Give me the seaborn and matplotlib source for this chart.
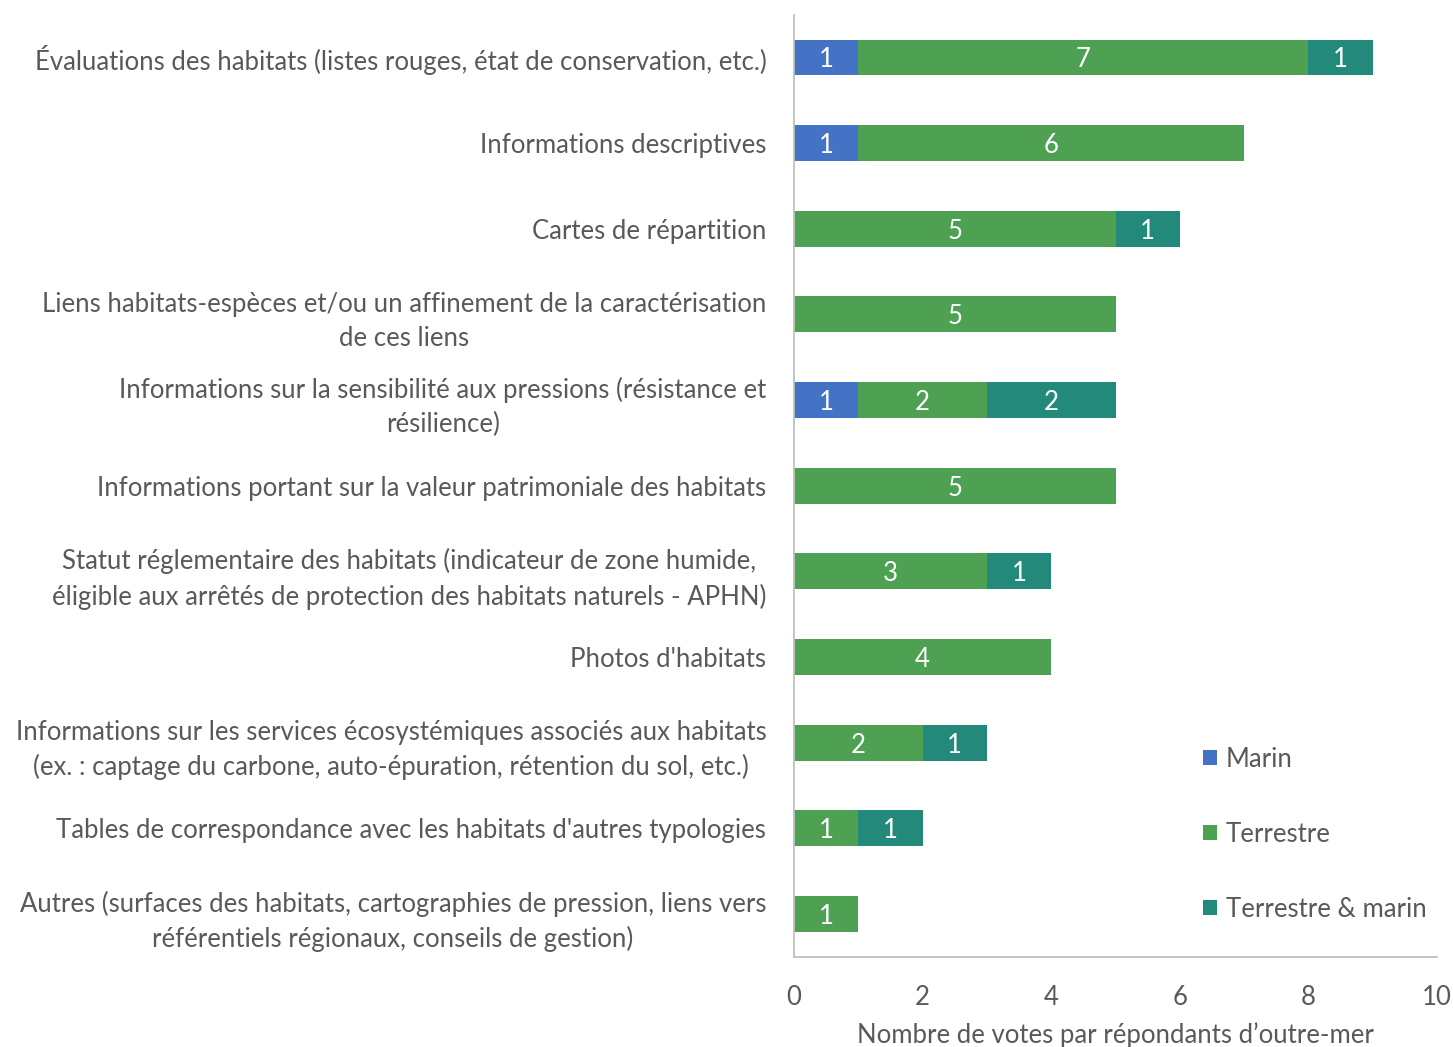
import numpy as np
import pandas as pd
import seaborn as sns
from matplotlib import pyplot as plt

# categories, top to bottom
categories = [
    "Évaluations des habitats (listes rouges, état de conservation, etc.)",
    "Informations descriptives",
    "Cartes de répartition",
    "Liens habitats-espèces et/ou un affinement de la caractérisation\nde ces liens",
    "Informations sur la sensibilité aux pressions (résistance et\nrésilience)",
    "Informations portant sur la valeur patrimoniale des habitats",
    "Statut réglementaire des habitats (indicateur de zone humide,\néligible aux arrêtés de protection des habitats naturels - APHN)",
    "Photos d'habitats",
    "Informations sur les services écosystémiques associés aux habitats\n(ex. : captage du carbone, auto-épuration, rétention du sol, etc.)",
    "Tables de correspondance avec les habitats d'autres typologies",
    "Autres (surfaces des habitats, cartographies de pression, liens vers\nréférentiels régionaux, conseils de gestion)",
]
marin = [1, 1, 0, 0, 1, 0, 0, 0, 0, 0, 0]
terrestre = [7, 6, 5, 5, 2, 5, 3, 4, 2, 1, 1]
terre_marin = [1, 0, 1, 0, 2, 0, 1, 0, 1, 1, 0]

series = ["Marin", "Terrestre", "Terrestre & marin"]
colors = ["#4472C4", "#4EA152", "#23897B"]

sns.set_style("white")
plt.rcParams["font.family"] = ["Lato", "DejaVu Sans"]
fs = 18.5

df = pd.DataFrame({"cat": categories, "Marin": marin,
                   "Terrestre": terrestre, "Terrestre & marin": terre_marin})
df["c1"] = df["Marin"]
df["c2"] = df["c1"] + df["Terrestre"]
df["c3"] = df["c2"] + df["Terrestre & marin"]

fig = plt.figure(figsize=(14.53, 10.47), dpi=100)
ax = fig.add_axes([0.5465, 0.086, 0.4425, 0.9])

# stacked by overdrawing cumulative totals
for col, c, lab in [("c3", colors[2], series[2]), ("c2", colors[1], series[1]), ("c1", colors[0], series[0])]:
    sns.barplot(data=df, y="cat", x=col, color=c, orient="y", width=0.42,
                saturation=1, label=lab, ax=ax, linewidth=0)

# segment labels
starts = np.zeros(len(df))
for s in series:
    vals = df[s].values
    for i, v in enumerate(vals):
        if v > 0:
            ax.text(starts[i] + v / 2, i, str(v), ha="center", va="center_baseline",
                    color="white", fontsize=fs)
    starts = starts + vals

ax.set_xlim(0, 10)
ax.set_ylim(len(df) - 0.5, -0.5)
ax.set_xticks([0, 2, 4, 6, 8, 10])
ax.set_xlabel("Nombre de votes par répondants d’outre-mer", fontsize=fs, color="#595959", labelpad=9)
ax.set_ylabel("")
ax.tick_params(axis="x", direction="in", length=6, color="#A6A6A6", labelsize=fs,
               labelcolor="#595959", pad=20)
ax.tick_params(axis="y", length=0, labelsize=fs, labelcolor="#595959", pad=20)
for t in ax.get_yticklabels():
    t.set_multialignment("center")
    t.set_linespacing(1.45)
    t.set_verticalalignment("center_baseline")
for side in ["top", "right"]:
    ax.spines[side].set_visible(False)
for side in ["left", "bottom"]:
    ax.spines[side].set_color("#BFBFBF")
    ax.spines[side].set_linewidth(1.3)

handles, labels = ax.get_legend_handles_labels()
order = [labels.index(s) for s in series]
ax.legend([handles[i] for i in order], series, loc="upper left",
          bbox_to_anchor=(0.812, 0.309), bbox_transform=fig.transFigure,
          frameon=False, fontsize=fs, labelcolor="#595959",
          handlelength=0.55, handleheight=0.55, handletextpad=0.35, labelspacing=1.95)

fig.savefig("out.png", dpi=100)
